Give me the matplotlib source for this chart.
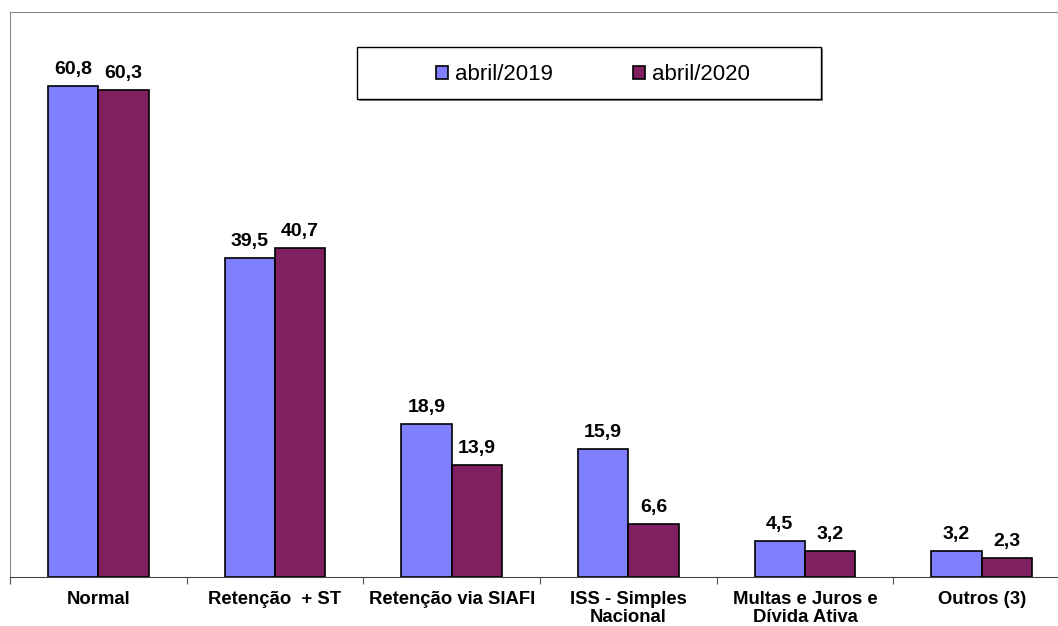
import numpy as np
import matplotlib.pyplot as plt
from matplotlib.patches import Rectangle

plt.rcParams['font.family'] = ['Liberation Sans', 'DejaVu Sans']

categories = ["Normal", "Retenção  + ST", "Retenção via SIAFI",
              "ISS - Simples\nNacional", "Multas e Juros e\nDívida Ativa", "Outros (3)"]
abr_2019 = [60.8, 39.5, 18.9, 15.9, 4.5, 3.2]
abr_2020 = [60.3, 40.7, 13.9, 6.6, 3.2, 2.3]
series_names = ["abril/2019", "abril/2020"]

W, H = 1058, 626
fig = plt.figure(figsize=(W / 100, H / 100), dpi=100)
ax = fig.add_axes([10 / W, (H - 577) / H, 1060 / W, (577 - 12) / H])

x = np.arange(len(categories)) + 0.5
bw = 0.285
b1 = ax.bar(x - bw / 2, abr_2019, bw, color="#8080FF", edgecolor="black", linewidth=1.2,
            label=series_names[0])
b2 = ax.bar(x + bw / 2, abr_2020, bw, color="#802060", edgecolor="black", linewidth=1.2,
            label=series_names[1])

for bars, vals in ((b1, abr_2019), (b2, abr_2020)):
    for r, v in zip(bars, vals):
        ax.text(r.get_x() + r.get_width() / 2, v + 1.0, f"{v:.1f}".replace(".", ","),
                ha="center", va="bottom", fontsize=14, fontweight="bold")

ax.set_xlim(0, len(categories))
ax.set_ylim(0, 70)
ax.set_xticks(np.arange(len(categories) + 1))
ax.set_xticklabels([])
ax.set_xticks(x, minor=True)
ax.set_xticklabels(categories, minor=True, fontsize=13.3, fontweight="bold", linespacing=1.05)
ax.tick_params(axis="x", which="major", length=5, color="#555555")
ax.tick_params(axis="x", which="minor", length=0, pad=10)
ax.set_yticks([])
ax.spines["right"].set_visible(False)
ax.spines["left"].set_color("#888888")
ax.spines["top"].set_color("#888888")
ax.spines["bottom"].set_color("#444444")

# legend box drawn by hand (wide padding, drop shadow)
x0, x1 = (357 - 10) / 1060, (821 - 10) / 1060
y0, y1 = (577 - 99) / 565, (577 - 47) / 565
ax.add_patch(Rectangle((x0 + 2 / 1060, y0 - 2 / 565), x1 - x0, y1 - y0, transform=ax.transAxes,
                       facecolor="#808080", edgecolor="none", zorder=5, clip_on=False))
ax.add_patch(Rectangle((x0, y0), x1 - x0, y1 - y0, transform=ax.transAxes,
                       facecolor="white", edgecolor="black", linewidth=1.0, zorder=6, clip_on=False))
leg = ax.legend(loc="center", bbox_to_anchor=((x0 + x1) / 2 + 4 / 1060, (y0 + y1) / 2 - 2 / 565),
                ncol=2, fontsize=16, frameon=False,
                handlelength=0.55, handleheight=0.55, handletextpad=0.3, columnspacing=3.6,
                borderpad=0, borderaxespad=0)
leg.set_zorder(7)

fig.savefig("out.png", dpi=100)
